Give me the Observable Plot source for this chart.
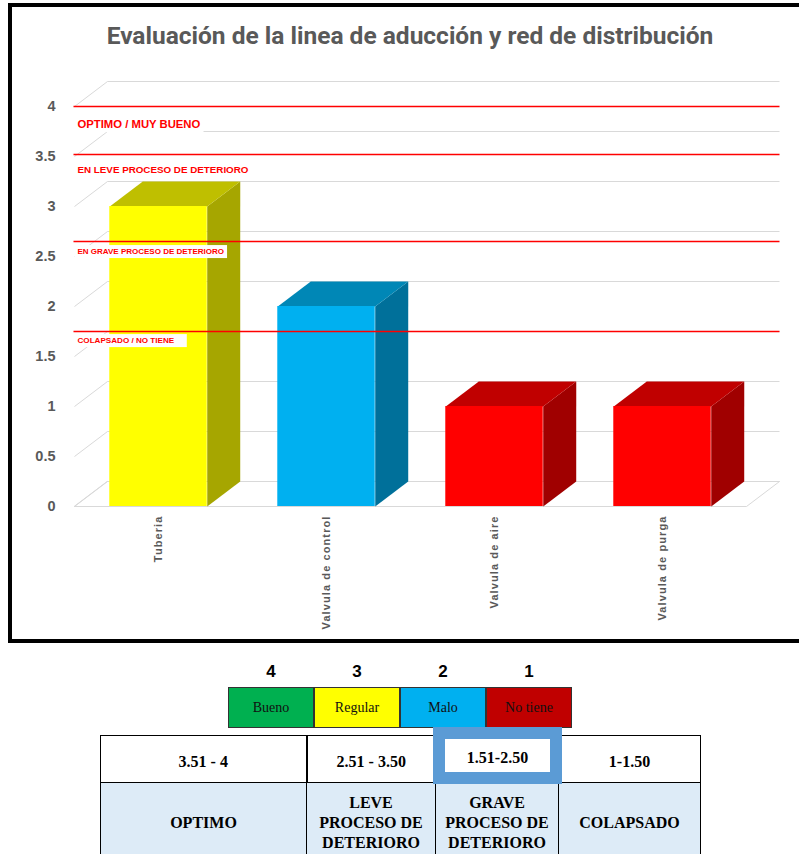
<!DOCTYPE html>
<html>
<head>
<meta charset="utf-8">
<script src="https://cdn.jsdelivr.net/npm/d3@7"></script>
<script src="https://cdn.jsdelivr.net/npm/@observablehq/plot@0.6"></script>
<style>
  html, body { margin: 0; padding: 0; background: #fff; width: 799px; height: 854px; overflow: hidden; }
  #page { position: relative; width: 799px; height: 854px; }
  #frame { position: absolute; left: 8px; top: 3px; width: 900px; height: 640px; border: 4px solid #000; box-sizing: border-box; }
  #chart { position: absolute; left: 0; top: 0; }
  #title { position: absolute; left: 0; top: 21px; width: 820px; text-align: center; font-family: "Liberation Sans Narrow", "Roboto", sans-serif; font-size: 24.5px; color: #595959; font-weight: bold; }
  .score { position: absolute; top: 662px; width: 86px; text-align: center; font-family: "Liberation Sans", Arial, sans-serif; font-weight: bold; font-size: 17px; line-height: 20px; color: #000; }
  .lbox { position: absolute; top: 687px; width: 86px; height: 41px; box-sizing: border-box; border: 1.5px solid #333; display: flex; align-items: center; justify-content: center; font-family: "Liberation Serif", serif; font-size: 14px; color: #111; }
  table { position: absolute; left: 100px; top: 735px; border-collapse: collapse; font-family: "Liberation Serif", serif; font-weight: bold; font-size: 16px; color: #000; table-layout: fixed; }
  td { border: 1.5px solid #000; text-align: center; padding: 0; }
  tr.r1 td { height: 47px; background: #fff; padding-top: 6px; box-sizing: border-box; }
  tr.r2 td { height: 80px; background: #DDEBF7; line-height: 20px; vertical-align: middle; }
  #hl { position: absolute; left: 433px; top: 727px; width: 129px; height: 57px; box-sizing: border-box; border: 12px solid #5B9BD5; background: #fff; display: flex; align-items: center; justify-content: center; padding-top: 4px; font-family: "Liberation Serif", serif; font-weight: bold; font-size: 16px; }
</style>
</head>
<body>
<div id="page">
  <div id="frame"></div>
  <div id="chart"></div>
  <div id="title"></div>
</div>
<script>
// ---------- data ----------
const titleText = "Evaluación de la linea de aducción y red de distribución";
const categories = ["Tuberia", "Valvula de control", "Valvula de aire", "Valvula de purga"];
const values = [3, 2, 1, 1];
const yTicks = [0, 0.5, 1, 1.5, 2, 2.5, 3, 3.5, 4];
const yTickLabels = ["0", "0.5", "1", "1.5", "2", "2.5", "3", "3.5", "4"];
const thresholdValues = [4, 3.52, 2.65, 1.75];
const thresholdLabels = ["OPTIMO / MUY BUENO", "EN LEVE PROCESO DE DETERIORO", "EN GRAVE PROCESO DE DETERIORO", "COLAPSADO / NO TIENE"];
const legendScores = ["4", "3", "2", "1"];
const legendNames = ["Bueno", "Regular", "Malo", "No tiene"];
const rangeLabels = ["3.51 - 4", "2.51 - 3.50", "1.51-2.50", "1-1.50"];
const stateLabels = [["OPTIMO"], ["LEVE", "PROCESO DE", "DETERIORO"], ["GRAVE", "PROCESO DE", "DETERIORO"], ["COLAPSADO"]];

// ---------- styles ----------
const shades = {
  3: {front: "#FFFF00", side: "#A6A600", top: "#BFBF00"},
  2: {front: "#00B0F0", side: "#00709A", top: "#0087B6"},
  1: {front: "#FF0000", side: "#A00000", top: "#C00000"}
};
const legendColors = ["#00B050", "#FFFF00", "#00B0F0", "#C00000"];
const labelStyle = [
  {size: 11.3, dy: 18, padR: 3}, {size: 9.8, dy: 15, padR: 3}, {size: 8, dy: 10, padR: 3}, {size: 8.1, dy: 9, padR: 12}
];
const DX = 33 / 168, DY = 0.25; // 3-D depth in data units
const BW0 = 0.21, BW1 = 0.79;

const bars = categories.map((c, i) => ({cat: c, i, v: values[i]}));
const sidePolys = bars.flatMap(b => {
  const x2 = b.i + BW1;
  return [[x2, 0], [x2 + DX, DY], [x2 + DX, b.v + DY], [x2, b.v]].map(([x, y]) => ({id: b.i, x, y, c: shades[b.v].side}));
});
const topPolys = bars.flatMap(b => {
  const x1 = b.i + BW0, x2 = b.i + BW1;
  return [[x1, b.v], [x2, b.v], [x2 + DX, b.v + DY], [x1 + DX, b.v + DY]].map(([x, y]) => ({id: b.i, x, y, c: shades[b.v].top}));
});
const floor = [[0, 0], [4, 0], [4 + DX, DY], [DX, DY]].map(([x, y]) => ({x, y}));
const thresholds = thresholdValues.map((v, i) => ({v, label: thresholdLabels[i], i}));

const plot = Plot.plot({
  width: 799, height: 645,
  marginLeft: 74, marginRight: 53, marginTop: 106, marginBottom: 139,
  style: {fontFamily: "'Liberation Sans', Arial, sans-serif", background: "transparent", overflow: "visible"},
  x: {type: "linear", domain: [0, 4], axis: null},
  y: {domain: [0, 4], axis: null},
  marks: [
    Plot.line(floor, {x: "x", y: "y", curve: "linear-closed", fill: "#ffffff", stroke: "#d9d9d9", strokeWidth: 1}),
    Plot.link(yTicks, {x1: DX, y1: d => d + DY, x2: 4 + DX, y2: d => d + DY, stroke: "#d9d9d9", strokeWidth: 1}),
    Plot.link(yTicks, {x1: 0, y1: d => d, x2: DX, y2: d => d + DY, stroke: "#d9d9d9", strokeWidth: 1}),
    Plot.line(sidePolys, {x: "x", y: "y", z: "id", curve: "linear-closed", fill: "c", stroke: null}),
    Plot.line(topPolys, {x: "x", y: "y", z: "id", curve: "linear-closed", fill: "c", stroke: null}),
    Plot.rect(bars, {x1: d => d.i + BW0, x2: d => d.i + BW1, y1: 0, y2: "v", fill: d => shades[d.v].front}),
    Plot.link(thresholds, {x1: -0.006, x2: 4 + DX, y1: "v", y2: "v", stroke: "#FF0000", strokeWidth: 1.3}),
    ...thresholds.map((t, i) => Plot.text([t], {
      x: 0, y: "v", text: "label", dx: 3, dy: labelStyle[i].dy, textAnchor: "start",
      fill: "#FF0000", fontWeight: "bold", fontSize: labelStyle[i].size, className: "thr-label thr-" + i
    })),
    Plot.axisY(yTicks, {tickFormat: (d, i) => yTickLabels[i], tickSize: 0, tickPadding: 19, fontSize: 14.5, fontWeight: "bold", fill: "#595959", label: null}),
    Plot.text(bars, {x: d => d.i + 0.5, y: 0, text: "cat", rotate: -90, textAnchor: "end", lineAnchor: "middle", dy: 9, fontSize: 11, fill: "#595959", fontWeight: "bold", className: "cat-label"})
  ]
});
document.getElementById("chart").append(plot);
document.getElementById("title").textContent = titleText;
plot.querySelectorAll("g.cat-label text").forEach(t => t.setAttribute("letter-spacing", "1.1"));

// white boxes behind threshold labels
labelStyle.forEach((st, i) => {
  plot.querySelectorAll("g.thr-" + i + " text").forEach(t => {
    const bb = t.getBBox();
    const r = document.createElementNS("http://www.w3.org/2000/svg", "rect");
    r.setAttribute("x", bb.x - 3); r.setAttribute("y", bb.y - 2);
    r.setAttribute("width", bb.width + 3 + st.padR); r.setAttribute("height", bb.height + 4);
    r.setAttribute("fill", "#fff");
    if (t.getAttribute("transform")) r.setAttribute("transform", t.getAttribute("transform"));
    t.parentNode.insertBefore(r, t);
  });
});

// legend strip
const page = document.getElementById("page");
legendScores.forEach((s, i) => {
  const d = document.createElement("div");
  d.className = "score"; d.style.left = (228 + i * 86) + "px"; d.textContent = s;
  page.append(d);
  const b = document.createElement("div");
  b.className = "lbox"; b.style.left = (228 + i * 86) + "px"; b.style.background = legendColors[i];
  b.textContent = legendNames[i];
  page.append(b);
});

// table
const colW = [206, 129, 123, 142];
const table = document.createElement("table");
table.style.width = "600px";
const cg = document.createElement("colgroup");
colW.forEach(w => { const c = document.createElement("col"); c.style.width = w + "px"; cg.append(c); });
table.append(cg);
const r1 = document.createElement("tr"); r1.className = "r1";
rangeLabels.forEach((t, i) => {
  const td = document.createElement("td");
  td.textContent = i === 2 ? "" : t; // the highlighted cell is drawn by the overlay box
  if (i === 1) td.style.borderLeft = "2.5px solid #000";
  r1.append(td);
});
const r2 = document.createElement("tr"); r2.className = "r2";
stateLabels.forEach(lines => { const td = document.createElement("td"); td.innerHTML = lines.join("<br>"); r2.append(td); });
table.append(r1, r2);
page.append(table);
const hl = document.createElement("div"); hl.id = "hl"; hl.textContent = rangeLabels[2];
page.append(hl);
</script>
</body>
</html>
